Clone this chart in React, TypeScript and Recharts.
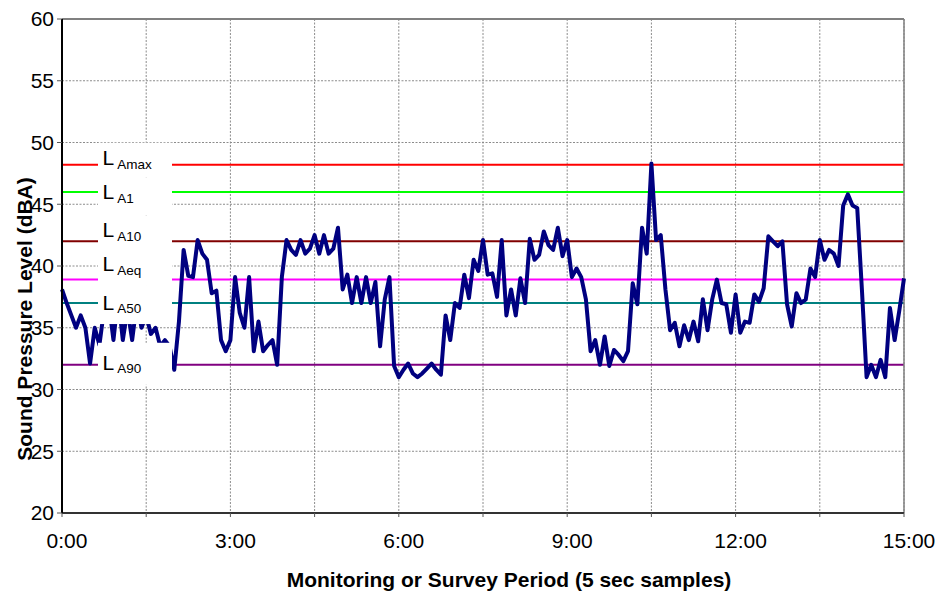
import React from 'react';
import { LineChart, Line, XAxis, YAxis, CartesianGrid, ReferenceLine, Label } from 'recharts';

// 5 second samples, 0:00 to 15:00 (181 points)
const samples = [
  38.1, 37.0, 36.0, 35.0, 36.0, 35.0, 32.1, 35.0, 33.6, 36.5,
  37.0, 34.0, 37.5, 34.0, 36.5, 34.0, 37.0, 35.0, 36.0, 34.5,
  35.0, 33.5, 34.0, 33.5, 31.6, 35.5, 41.3, 39.2, 39.1, 42.1,
  41.0, 40.5, 37.8, 38.0, 34.0, 33.1, 34.0, 39.1, 36.2, 35.0,
  39.1, 33.1, 35.5, 33.1, 33.6, 34.0, 32.0, 39.1, 42.1, 41.3,
  40.9, 42.1, 41.0, 41.4, 42.5, 41.0, 42.5, 41.0, 41.4, 43.1,
  38.1, 39.3, 37.0, 39.1, 37.0, 39.1, 37.0, 38.7, 33.5, 37.3,
  39.1, 31.9, 31.0, 31.6, 32.1, 31.3, 31.0, 31.3, 31.7, 32.1,
  31.6, 31.2, 36.0, 34.0, 37.0, 36.6, 39.3, 37.4, 40.5, 39.6,
  42.1, 39.3, 39.4, 37.5, 42.1, 36.0, 38.1, 36.0, 39.0, 37.0,
  42.2, 40.5, 40.9, 42.8, 41.7, 41.3, 43.1, 40.8, 42.1, 39.1,
  39.8, 39.1, 37.3, 33.1, 34.0, 32.0, 34.3, 31.9, 33.2, 32.8,
  32.3, 33.1, 38.6, 36.9, 43.1, 41.0, 48.3, 42.1, 42.5, 38.1,
  34.8, 35.4, 33.5, 35.2, 34.0, 35.5, 33.9, 37.3, 34.8, 37.3,
  38.9, 37.0, 36.9, 34.6, 37.7, 34.6, 35.5, 35.4, 37.7, 37.1,
  38.2, 42.4, 42.0, 41.6, 42.0, 36.9, 35.1, 37.8, 37.0, 37.3,
  39.8, 39.1, 42.1, 40.5, 41.3, 41.0, 40.0, 44.9, 45.8, 44.9,
  44.7, 38.1, 31.0, 32.0, 31.0, 32.4, 31.0, 36.6, 34.0, 36.4,
  39.0,
];

const xTicks = [0, 18, 36, 54, 72, 90, 108, 126, 144, 162, 180];
const xTickLabels = ['0:00', '', '3:00', '', '6:00', '', '9:00', '', '12:00', '', '15:00'];
const yTicks = [20, 25, 30, 35, 40, 45, 50, 55, 60];

const statNames = ['Amax', 'A1', 'A10', 'Aeq', 'A50', 'A90'];
const statValues = [48.2, 46.0, 42.0, 38.9, 37.0, 32.0];

const statColors = ['#ff0000', '#00ff00', '#800000', '#ff00ff', '#008080', '#800080'];
// white label boxes, offsets from the line (top, bottom, text baseline)
const statBoxes = [
  { top: -22, bottom: 13, base: 0.5 },
  { top: -14, bottom: 23, base: 7.3 },
  { top: -26, bottom: 10, base: -4 },
  { top: -30, bottom: 6, base: -8.3 },
  { top: -18, bottom: 21, base: 6.7 },
  { top: -22, bottom: 20, base: 5 },
];

const data = samples.map((v, i) => ({ i, v }));
const font = '"Liberation Sans", Arial, sans-serif';

const StatLabel = (props: any) => {
  const { viewBox, name, box } = props;
  if (!viewBox) return null;
  const x = viewBox.x;
  const y = viewBox.y;
  return (
    <g>
      <rect x={x + 36} y={y + box.top} width={74} height={box.bottom - box.top} fill="#fff" />
      <text x={x + 40.5} y={y + box.base} fontSize={21} fontFamily={font} fill="#000">L</text>
      <text x={x + 55.3} y={y + box.base + 3.4} fontSize={13.5} fontFamily={font} fill="#000">{name}</text>
    </g>
  );
};

export default function App() {
  return (
    <div style={{ position: 'absolute', left: 0, top: 0, width: 942, height: 592, background: '#fff' }}>
      <LineChart width={942} height={592} data={data} margin={{ top: 19, right: 38, left: 0, bottom: 0 }}>
        <CartesianGrid stroke="#8c8c8c" strokeDasharray="2 1.5" />
        <XAxis
          dataKey="i"
          type="number"
          domain={[0, 180]}
          ticks={xTicks}
          interval={0}
          height={79}
          tickSize={4}
          tickMargin={16}
          tickFormatter={(v: number) => xTickLabels[xTicks.indexOf(v)] ?? ''}
          tick={{ fontSize: 21, fill: '#000', fontFamily: font, dx: 5 }}
          axisLine={{ stroke: '#333', strokeWidth: 2 }}
          tickLine={{ stroke: '#555' }}
        >
          <Label
            content={({ viewBox }: any) => (
              <text
                x={viewBox.x + viewBox.width / 2 + 26}
                y={viewBox.y + 74}
                textAnchor="middle"
                fontSize={21}
                fontWeight="bold"
                fontFamily={font}
                fill="#000"
              >
                Monitoring or Survey Period (5 sec samples)
              </text>
            )}
          />
        </XAxis>
        <YAxis
          type="number"
          domain={[20, 60]}
          ticks={yTicks}
          interval={0}
          width={62}
          tickSize={5}
          tickMargin={3}
          tick={{ fontSize: 21, fill: '#000', fontFamily: font }}
          axisLine={{ stroke: '#000', strokeWidth: 2 }}
          tickLine={{ stroke: '#555' }}
        >
          <Label
            content={({ viewBox }: any) => (
              <text
                transform={`translate(${viewBox.x + 31.7},${viewBox.y + viewBox.height / 2 + 53}) rotate(-90)`}
                textAnchor="middle"
                fontSize={21}
                fontWeight="bold"
                fontFamily={font}
                fill="#000"
              >
                Sound Pressure Level (dBA)
              </text>
            )}
          />
        </YAxis>
        <ReferenceLine y={60} stroke="#808080" strokeWidth={2} />
        <ReferenceLine x={180} stroke="#808080" strokeWidth={1.5} />
        {statValues.map((v, k) => (
          <ReferenceLine key={'l' + k} y={v} stroke={statColors[k]} strokeWidth={2} zIndex={350} />
        ))}
        <Line
          type="linear"
          dataKey="v"
          stroke="#000080"
          strokeWidth={4}
          strokeLinejoin="round"
          dot={false}
          activeDot={false}
          isAnimationActive={false}
        />
        {statValues.map((v, k) => (
          <ReferenceLine
            key={'t' + k}
            y={v}
            stroke="none"
            zIndex={2000}
            label={<StatLabel name={statNames[k]} box={statBoxes[k]} />}
          />
        ))}
      </LineChart>
    </div>
  );
}
